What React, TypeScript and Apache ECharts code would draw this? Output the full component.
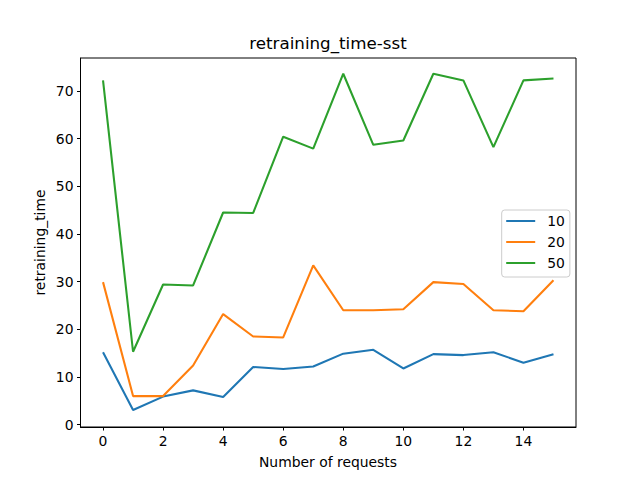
import React, { useEffect, useRef } from "react";
import * as echarts from "echarts";

const xValues = [0, 1, 2, 3, 4, 5, 6, 7, 8, 9, 10, 11, 12, 13, 14, 15];
const series10 = [15.2, 3.1, 5.9, 7.2, 5.8, 12.1, 11.7, 12.2, 14.9, 15.7, 11.8, 14.8, 14.6, 15.2, 13.0, 14.8];
const series20 = [29.9, 6.0, 6.0, 12.4, 23.2, 18.5, 18.3, 33.4, 24.0, 24.0, 24.2, 29.9, 29.5, 24.0, 23.8, 30.3];
const series50 = [72.2, 15.3, 29.4, 29.2, 44.5, 44.4, 60.4, 57.9, 73.6, 58.7, 59.6, 73.6, 72.2, 58.2, 72.2, 72.6];
const seriesNames = ["10", "20", "50"];
const colors = ["#1f77b4", "#ff7f0e", "#2ca02c"];
const xTicks = [0, 2, 4, 6, 8, 10, 12, 14];
const yTicks = [0, 10, 20, 30, 40, 50, 60, 70];

const FONT = "DejaVu Sans";

export default function App() {
  const ref = useRef<HTMLDivElement>(null);
  useEffect(() => {
    if (!ref.current) return;
    const chart = echarts.init(ref.current, undefined, { renderer: "svg" });
    const all = [series10, series20, series50];
    chart.setOption({
      animation: false,
      backgroundColor: "#ffffff",
      grid: {
        left: 80.5,
        top: 58,
        right: 64,
        bottom: 53,
        show: true,
        borderColor: "#000000",
        borderWidth: 1,
        containLabel: false,
      },
      xAxis: {
        type: "value",
        min: -0.75,
        max: 15.75,
        axisLine: { show: true, onZero: false, lineStyle: { color: "#000", width: 1 } },
        axisTick: { show: true, length: 3.5, customValues: xTicks, lineStyle: { color: "#000", width: 1 } },
        axisLabel: { customValues: xTicks, margin: 7, fontFamily: FONT, fontSize: 13.9, color: "#000" },
        splitLine: { show: false },
      },
      yAxis: {
        type: "value",
        min: -0.48,
        max: 76.9,
        axisLine: { show: true, onZero: false, lineStyle: { color: "#000", width: 1 } },
        axisTick: { show: true, length: 3.5, customValues: yTicks, lineStyle: { color: "#000", width: 1 } },
        axisLabel: { customValues: yTicks, margin: 7, fontFamily: FONT, fontSize: 13.9, color: "#000" },
        splitLine: { show: false },
      },
      legend: {
        orient: "vertical",
        left: 501.7,
        top: 210,
        icon: "rect",
        itemWidth: 29,
        itemHeight: 2,
        itemGap: 7,
        padding: [4, 5, 7, 4.5],
        borderColor: "#cccccc",
        borderWidth: 1,
        borderRadius: 3,
        backgroundColor: "rgba(255,255,255,0.8)",
        textStyle: { fontFamily: FONT, fontSize: 13.9, color: "#000", lineHeight: 14, padding: [0, 0, 0, 7] },
        data: seriesNames,
      },
      graphic: [
        {
          type: "text",
          x: 328,
          y: 43,
          style: { text: "retraining_time-sst", fontFamily: FONT, fontSize: 16.7, fill: "#000", textAlign: "center", textVerticalAlign: "middle" },
        },
        {
          type: "text",
          x: 328,
          y: 462,
          style: { text: "Number of requests", fontFamily: FONT, fontSize: 13.9, fill: "#000", textAlign: "center", textVerticalAlign: "middle" },
        },
        {
          type: "text",
          x: 40,
          y: 242.5,
          rotation: Math.PI / 2,
          style: { text: "retraining_time", fontFamily: FONT, fontSize: 13.9, fill: "#000", textAlign: "center", textVerticalAlign: "middle" },
        },
      ],
      series: all.map((vals, i) => ({
        name: seriesNames[i],
        type: "line",
        symbol: "none",
        data: xValues.map((x, j) => [x, vals[j]]),
        lineStyle: { color: colors[i], width: 2.08 },
        itemStyle: { color: colors[i] },
        emphasis: { disabled: true },
      })),
    });
    return () => chart.dispose();
  }, []);
  return <div ref={ref} style={{ position: "fixed", left: 0, top: 0, width: 640, height: 480 }} />;
}
